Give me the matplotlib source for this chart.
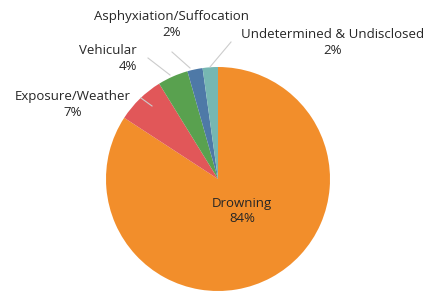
import matplotlib.pyplot as plt

# data
causes = ["Drowning", "Exposure/Weather", "Vehicular",
          "Asphyxiation/Suffocation", "Undetermined & Undisclosed"]
shares = [84.2, 7.0, 4.4, 2.2, 2.2]
colors = ["#F28E2B", "#E15759", "#59A14F", "#4E79A7", "#76B7B2"]

W, H = 445, 293
CX, CY, R = 218, 179, 112  # pie centre / radius in pixels


def px(x, y):
    # pixel coords -> data coords (pie radius = 1)
    return (x - CX) / R, (CY - y) / R


fig = plt.figure(figsize=(W / 100, H / 100), dpi=100)
ax = fig.add_axes([0, 0, 1, 1])
ax.pie(shares, colors=colors, startangle=90, counterclock=False,
       radius=1, wedgeprops=dict(linewidth=0))
ax.set_aspect("auto")
ax.set_xlim(-CX / R, (W - CX) / R)
ax.set_ylim(-(H - CY) / R, CY / R)
ax.axis("off")

txt = dict(fontsize=9.5, color="#262626", family="Open Sans",
           va="center", linespacing=1.3)

# label positions (pixels), alignment, leader line ends
labels = [
    ((242, 211), "center", None),
    ((73, 104), "center", ((141, 98), (152, 106))),
    ((137, 58), "right", ((148, 58), (170, 75))),
    ((172, 24), "center", ((172, 52), (190, 68))),
    ((333, 42), "center", ((231, 42), (210, 67))),
]

for name, val, (pos, ha, line) in zip(causes, shares, labels):
    x, y = px(*pos)
    ax.text(x, y, f"{name}\n{round(val)}%", ha=ha, multialignment=ha, **txt)
    if line:
        (x0, y0), (x1, y1) = px(*line[0]), px(*line[1])
        ax.plot([x0, x1], [y0, y1], color="#cccccc", lw=0.8)

fig.savefig("out.png", dpi=100)
